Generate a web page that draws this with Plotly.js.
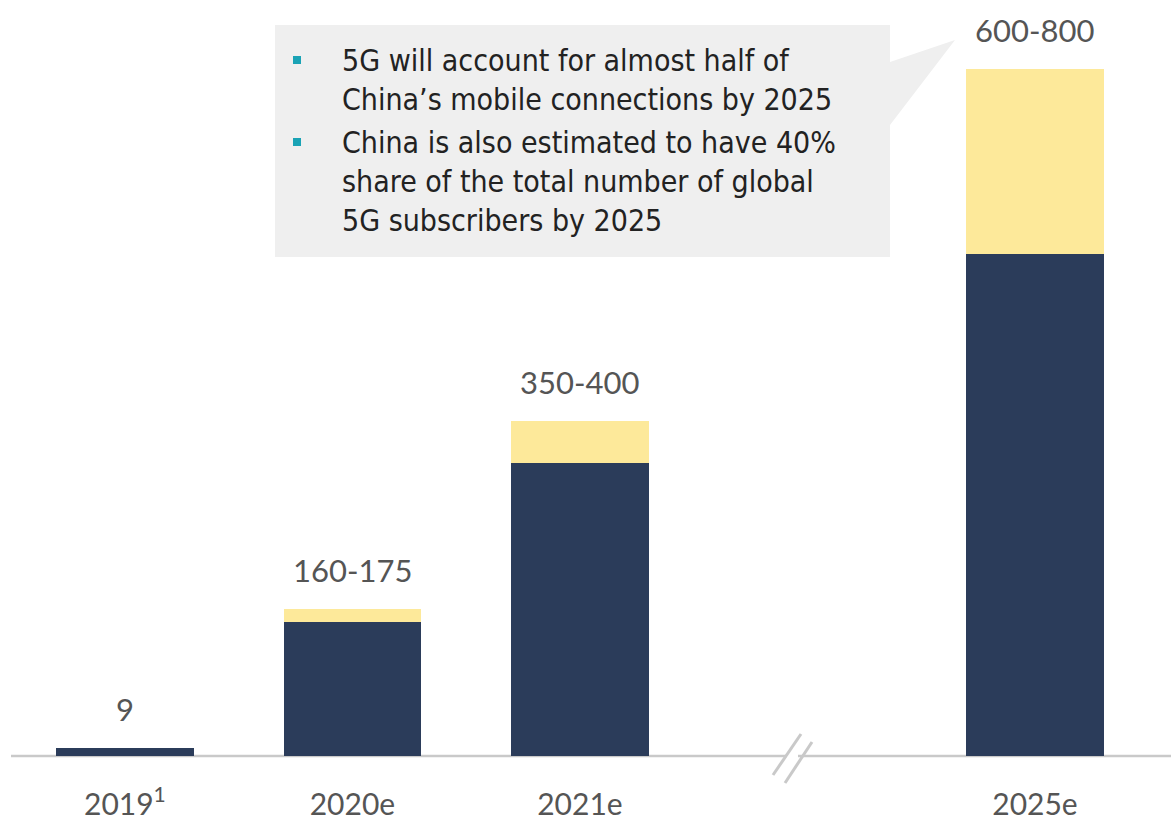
<!DOCTYPE html>
<html>
<head>
<meta charset="utf-8">
<script src="https://cdn.plot.ly/plotly-3.0.1.min.js"></script>
<style>html,body{margin:0;padding:0;background:#fff;}#chart{width:1171px;height:825px;}</style>
</head>
<body>
<div id="chart"></div>
<script>
// Data
const categories = ["2019<sup>1</sup>", "2020e", "2021e", "2025e"];
const slotIndex = [0, 1, 2, 4];          // bar slots (slot 3 is the axis break)
const lowValues = [9, 160, 350, 600];     // dark part (lower estimate)
const highValues = [9, 175, 400, 820];    // top of yellow part (upper estimate as drawn)
const rangeLabels = ["9", "160-175", "350-400", "600-800"];
const noteLines = [
  "5G will account for almost half of<br>China’s mobile connections by 2025",
  "China is also estimated to have 40%<br>share of the total number of global<br>5G subscribers by 2025"
];

const navy = "#2b3c5a", yellow = "#fde99a", gray = "#c9c9c9";
const valueFont = {family: "Lato, 'Open Sans', sans-serif", size: 31, color: "#555"};
const tickFont = {family: "Lato, 'Open Sans', sans-serif", size: 30, color: "#555"};
const noteFont = {family: "'Liberation Sans Narrow', 'DejaVu Sans Condensed', 'Noto Sans', sans-serif", size: 30, color: "#222"};

const extra = highValues.map((h, i) => h - lowValues[i]);

const traces = [
  {type: "bar", x: slotIndex, y: lowValues, marker: {color: navy}, width: 0.605, hoverinfo: "none"},
  {type: "bar", x: slotIndex, y: extra, marker: {color: yellow}, width: 0.605, hoverinfo: "none"}
];

const annotations = slotIndex.map((s, i) => ({
  x: s, y: highValues[i], xref: "x", yref: "y", text: rangeLabels[i],
  showarrow: false, yanchor: "bottom", yshift: 18, font: valueFont
}));

// Note box text
annotations.push({
  xref: "paper", yref: "paper", x: 340/1171, y: 1 - 41/756, xanchor: "left", yanchor: "top",
  text: noteLines[0], align: "left", showarrow: false, font: noteFont
});
annotations.push({
  xref: "paper", yref: "paper", x: 340/1171, y: 1 - 123/756, xanchor: "left", yanchor: "top",
  text: noteLines[1], align: "left", showarrow: false, font: noteFont
});

function px(x){return x/1171;}
function py(y){return 1 - y/756;}

const shapes = [
  // callout box + pointer
  {type: "path", xref: "paper", yref: "paper",
   path: `M ${px(275)} ${py(25)} L ${px(890)} ${py(25)} L ${px(890)} ${py(62)} L ${px(955)} ${py(40)} L ${px(890)} ${py(125)} L ${px(890)} ${py(257)} L ${px(275)} ${py(257)} Z`,
   fillcolor: "#efefef", line: {width: 0}, layer: "below"},
  // bullets
  {type: "rect", xref: "paper", yref: "paper", x0: px(293), x1: px(301), y0: py(56), y1: py(64), fillcolor: "#1aa3b5", line: {width: 0}},
  {type: "rect", xref: "paper", yref: "paper", x0: px(293), x1: px(301), y0: py(138), y1: py(146), fillcolor: "#1aa3b5", line: {width: 0}},
  // baseline
  {type: "line", xref: "paper", yref: "paper", x0: px(11), x1: 1, y0: py(756), y1: py(756), line: {color: gray, width: 2.5}, layer: "below"},
  // white gap in break
  {type: "rect", xref: "paper", yref: "paper", x0: px(787), x1: px(798), y0: py(752), y1: py(760), fillcolor: "#fff", line: {width: 0}, layer: "below"},
  // break marks
  {type: "line", xref: "paper", yref: "paper", x0: px(773), y0: py(775), x1: px(801), y1: py(734), line: {color: gray, width: 3}},
  {type: "line", xref: "paper", yref: "paper", x0: px(785), y0: py(783), x1: px(812), y1: py(742), line: {color: gray, width: 3}}
];

const layout = {
  width: 1171, height: 825,
  margin: {l: 0, r: 0, t: 0, b: 69},
  paper_bgcolor: "#fff", plot_bgcolor: "#fff",
  barmode: "stack", bargap: 0,
  showlegend: false,
  xaxis: {range: [-0.549, 4.598], tickvals: slotIndex, ticktext: categories,
          showgrid: false, zeroline: false, showline: false, ticks: "",
          tickfont: tickFont, ticklabelstandoff: 28, fixedrange: true},
  yaxis: {range: [0, 903], visible: false, fixedrange: true},
  annotations: annotations,
  shapes: shapes
};

Plotly.newPlot("chart", traces, layout, {displayModeBar: false, staticPlot: true});
</script>
</body>
</html>
